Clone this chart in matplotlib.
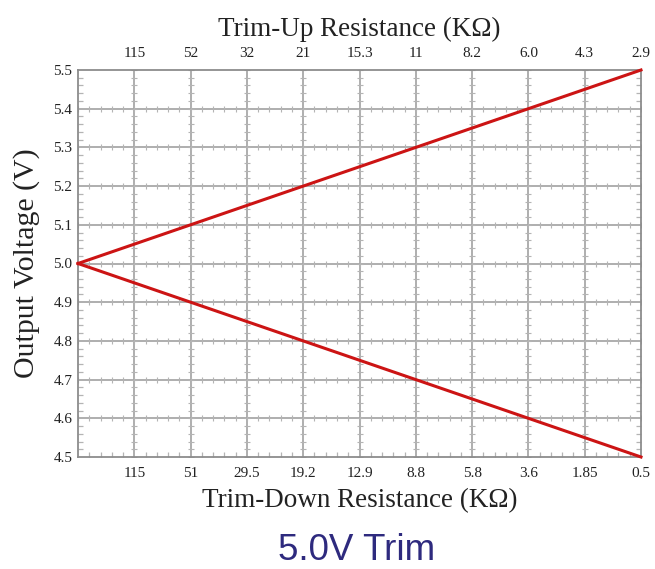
import numpy as np
import matplotlib
matplotlib.use("Agg")
import matplotlib.pyplot as plt
from matplotlib.ticker import MultipleLocator

# Data
positions = [0, 1, 2, 3, 4, 5, 6, 7, 8, 9, 10]
trim_up_voltage = [5.0, 5.05, 5.10, 5.15, 5.20, 5.25, 5.30, 5.35, 5.40, 5.45, 5.50]
trim_down_voltage = [5.0, 4.95, 4.90, 4.85, 4.80, 4.75, 4.70, 4.65, 4.60, 4.55, 4.50]
bottom_labels = ["", "115", "51", "29.5", "19.2", "12.9", "8.8", "5.8", "3.6", "1.85", "0.5"]
top_labels = ["", "115", "52", "32", "21", "15.3", "11", "8.2", "6.0", "4.3", "2.9"]
y_ticks = [4.5, 4.6, 4.7, 4.8, 4.9, 5.0, 5.1, 5.2, 5.3, 5.4, 5.5]

plt.rcParams['font.family'] = ['Liberation Serif', 'DejaVu Serif']

fig = plt.figure(figsize=(6.55, 5.69), dpi=100)
ax = fig.add_axes([78/655, 1-457/569, (641-78)/655, (457-70)/569])

grid_c = '#a8a8a8'
tick_c = '#b4b4b4'
spine_c = '#8c8c8c'

ax.set_xlim(0, 10)
ax.set_ylim(4.5, 5.5)

# grid
for x in positions[1:-1]:
    ax.axvline(x, color=grid_c, lw=1.3, zorder=1)
for y in y_ticks[1:-1]:
    ax.axhline(y, color=grid_c, lw=1.3, zorder=1)

# small crossing ticks on grid lines
xminor = np.arange(0, 10.001, 0.2)
yminor = np.arange(4.5, 5.5001, 0.02)
for x in positions[1:-1]:
    ax.plot([x]*len(yminor), yminor, ls='none', marker='_', ms=4.5, mew=0.8, color=tick_c, zorder=1)
for y in y_ticks[1:-1]:
    ax.plot(xminor, [y]*len(xminor), ls='none', marker='|', ms=4.5, mew=0.8, color=tick_c, zorder=1)

ax.plot(positions, trim_up_voltage, color='#cc1414', lw=2.2, zorder=3, clip_on=False)
ax.plot(positions, trim_down_voltage, color='#cc1414', lw=2.2, zorder=3, clip_on=False)

for s in ax.spines.values():
    s.set_color(spine_c)
    s.set_linewidth(1.3)

ax.set_xticks(positions)
ax.set_xticklabels(bottom_labels)
ax.set_yticks(y_ticks)
ax.set_yticklabels([f"{v:.1f}" for v in y_ticks])
ax.xaxis.set_minor_locator(MultipleLocator(0.2))
ax.yaxis.set_minor_locator(MultipleLocator(0.02))
ax.tick_params(axis='both', which='major', direction='in', length=0, labelsize=11, colors='#222222', pad=4)
ax.tick_params(axis='both', which='minor', direction='in', length=3.5, width=0.9, color=tick_c,
               top=True, right=True)
ax.tick_params(axis='x', which='major', pad=7)

ax.set_xlabel("Trim-Down Resistance (KΩ)", fontsize=19.5, color='#222222', labelpad=6)
ax.set_ylabel("Output Voltage (V)", fontsize=21.5, color='#222222', labelpad=10)

ax2 = ax.twiny()
ax2.set_xlim(ax.get_xlim())
ax2.set_xticks(positions)
ax2.set_xticklabels(top_labels)
ax2.tick_params(axis='x', which='major', direction='in', length=0, labelsize=11, colors='#222222', pad=7)
for s in ax2.spines.values():
    s.set_visible(False)
ax2.set_xlabel("Trim-Up Resistance (KΩ)", fontsize=19.5, color='#222222', labelpad=8)

fig.text(357/655, 1-551/569, "5.0V Trim", ha='center', va='center', fontsize=26.5,
         color='#2e2a7e', family=['Liberation Sans', 'DejaVu Sans'])

fig.savefig("out.png", dpi=100)
